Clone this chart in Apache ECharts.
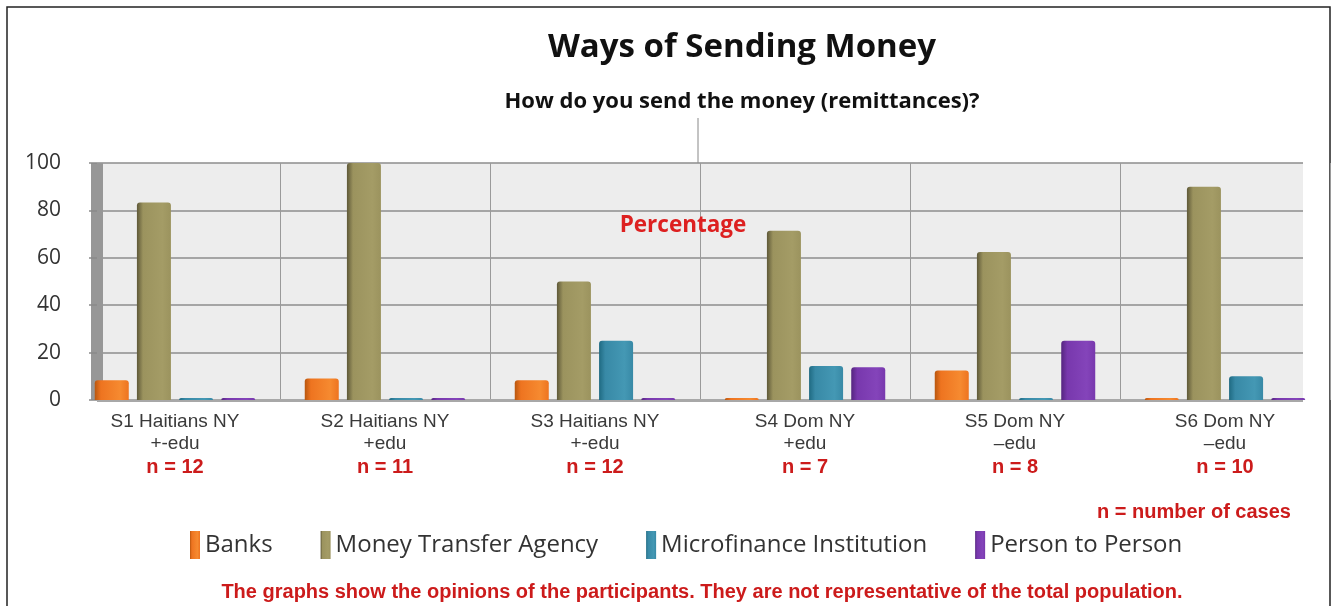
<!DOCTYPE html>
<html>
<head>
<meta charset="utf-8">
<title>Ways of Sending Money</title>
<script src="https://cdn.jsdelivr.net/npm/echarts@6/dist/echarts.min.js"></script>
<style>
    html, body { margin: 0; padding: 0; background: #fff; }
    #chart { width: 1336px; height: 606px; }
</style>
</head>
<body>
<div id="chart"></div>
<script>
'use strict';

// data
var groups = ['S1 Haitians NY', 'S2 Haitians NY', 'S3 Haitians NY', 'S4 Dom NY', 'S5 Dom NY', 'S6 Dom NY'];
var eduLabels = ['+-edu', '+edu', '+-edu', '+edu', '\u2013edu', '\u2013edu'];
var nCases = [12, 11, 12, 7, 8, 10];
var seriesNames = ['Banks', 'Money Transfer Agency', 'Microfinance Institution', 'Person to Person'];
var banks = [8.3, 9.1, 8.3, 0, 12.5, 0];
var moneyTransfer = [83.3, 100, 50, 71.4, 62.5, 90];
var microfinance = [0, 0, 25, 14.3, 0, 10];
var personToPerson = [0, 0, 0, 13.8, 25, 0];
var yTicks = [0, 20, 40, 60, 80, 100];

var chart = echarts.init(document.getElementById('chart'));

var shade = function (dark, mid, light) {
    return new echarts.graphic.LinearGradient(0, 0, 1, 0, [
        {offset: 0, color: dark},
        {offset: 0.18, color: mid},
        {offset: 0.75, color: light},
        {offset: 1, color: mid}
    ]);
};

var colors = [
    shade('#b8560e', '#ee7420', '#f68a30'),
    shade('#5e5838', '#9b935e', '#a49c66'),
    shade('#1f6a82', '#3889a6', '#4498b4'),
    shade('#55257f', '#7838ad', '#8444ba')
];

var makeSeries = function (name, data, idx) {
    return {
        name: name,
        type: 'bar',
        xAxisIndex: 0,
        yAxisIndex: 0,
        data: data,
        barWidth: 34,
        barGap: '24%',
        barMinHeight: 2,
        itemStyle: {
            color: colors[idx],
            borderRadius: [3, 3, 0, 0]
        },
        z: 3
    };
};

var option = {
    backgroundColor: '#fff',
    animation: false,
    title: [{
        text: 'Ways of Sending Money',
        left: 737, top: 26, textAlign: 'center',
        textStyle: {fontFamily: 'Open Sans', fontWeight: 'bold', fontSize: 33, color: '#111'}
    }, {
        text: 'How do you send the money (remittances)?',
        left: 737, top: 86, textAlign: 'center',
        textStyle: {fontFamily: 'Open Sans', fontWeight: 'bold', fontSize: 22, color: '#111'}
    }, {
        text: 'Percentage',
        left: 678, top: 209, textAlign: 'center',
        textStyle: {fontFamily: 'Open Sans', fontWeight: 'bold', fontSize: 22.5, color: '#dd2020'}
    }, {
        text: 'n = number of cases',
        left: 1189, top: 497, textAlign: 'center',
        textStyle: {fontFamily: 'Liberation Sans', fontWeight: 'bold', fontSize: 20, color: '#cc1b1b'}
    }, {
        text: 'The graphs show the opinions of the participants. They are not representative of the total population.',
        left: 697, top: 577, textAlign: 'center',
        textStyle: {fontFamily: 'Liberation Sans', fontWeight: 'bold', fontSize: 20, color: '#cc1b1b'}
    }],
    legend: {
        data: seriesNames,
        left: 185, top: 526,
        itemWidth: 10, itemHeight: 28,
        itemGap: 48,
        icon: 'rect',
        textStyle: {fontFamily: 'Open Sans', fontSize: 24, color: '#333'}
    },
    grid: [{
        // bars
        left: 70, right: 6, top: 163, bottom: 206
    }, {
        // back wall with gridlines
        left: 97, right: 33, top: 163, bottom: 206,
        show: true, borderWidth: 0,
        backgroundColor: '#ededed'
    }],
    xAxis: [{
        type: 'category',
        gridIndex: 0,
        data: groups,
        axisLine: {show: false},
        axisTick: {show: false},
        splitLine: {
            show: true,
            interval: function (index) { return index > 0; },
            lineStyle: {color: '#9a9a9a', width: 1}
        },
        axisLabel: {
            margin: 11,
            formatter: function (value, index) {
                return '{a|' + value + '}\n{b|' + eduLabels[index] + '}\n{n|n = ' + nCases[index] + '}';
            },
            rich: {
                a: {fontFamily: 'Liberation Sans', fontSize: 19, color: '#3a3a3a', lineHeight: 22},
                b: {fontFamily: 'Liberation Sans', fontSize: 19, color: '#3a3a3a', lineHeight: 22},
                n: {fontFamily: 'Liberation Sans', fontSize: 20, fontWeight: 'bold', color: '#cc1b1b', lineHeight: 25}
            }
        }
    }, {
        type: 'value',
        gridIndex: 1,
        min: 0, max: 1,
        axisLabel: {show: false},
        axisTick: {show: false},
        splitLine: {show: false},
        axisLine: {show: true, lineStyle: {color: '#a8a8a8', width: 3, cap: 'butt'}}
    }],
    yAxis: [{
        type: 'value',
        gridIndex: 0,
        min: 0, max: 100, interval: 20,
        show: false
    }, {
        type: 'value',
        gridIndex: 1,
        min: yTicks[0], max: yTicks[yTicks.length - 1], interval: 20,
        offset: 6,
        axisLine: {show: true, lineStyle: {color: '#979797', width: 12, cap: 'butt'}},
        axisTick: {show: true, length: 8, lineStyle: {color: '#8a8a8a', width: 1.5}},
        axisLabel: {margin: 30, fontFamily: 'Open Sans', fontSize: 21, color: '#333'},
        splitLine: {show: true, lineStyle: {color: '#8c8c8c', width: 1.5}}
    }],
    graphic: [{
        // frame
        type: 'rect',
        shape: {x: 7, y: 7, width: 1323, height: 640},
        style: {fill: 'none', stroke: '#222', lineWidth: 1.5}
    }, {
        // leader line under the subtitle
        type: 'line',
        shape: {x1: 698, y1: 118, x2: 698, y2: 163},
        style: {stroke: '#888', lineWidth: 1}
    }],
    series: [
        makeSeries(seriesNames[0], banks, 0),
        makeSeries(seriesNames[1], moneyTransfer, 1),
        makeSeries(seriesNames[2], microfinance, 2),
        makeSeries(seriesNames[3], personToPerson, 3)
    ]
};

chart.setOption(option);
</script>
</body>
</html>
